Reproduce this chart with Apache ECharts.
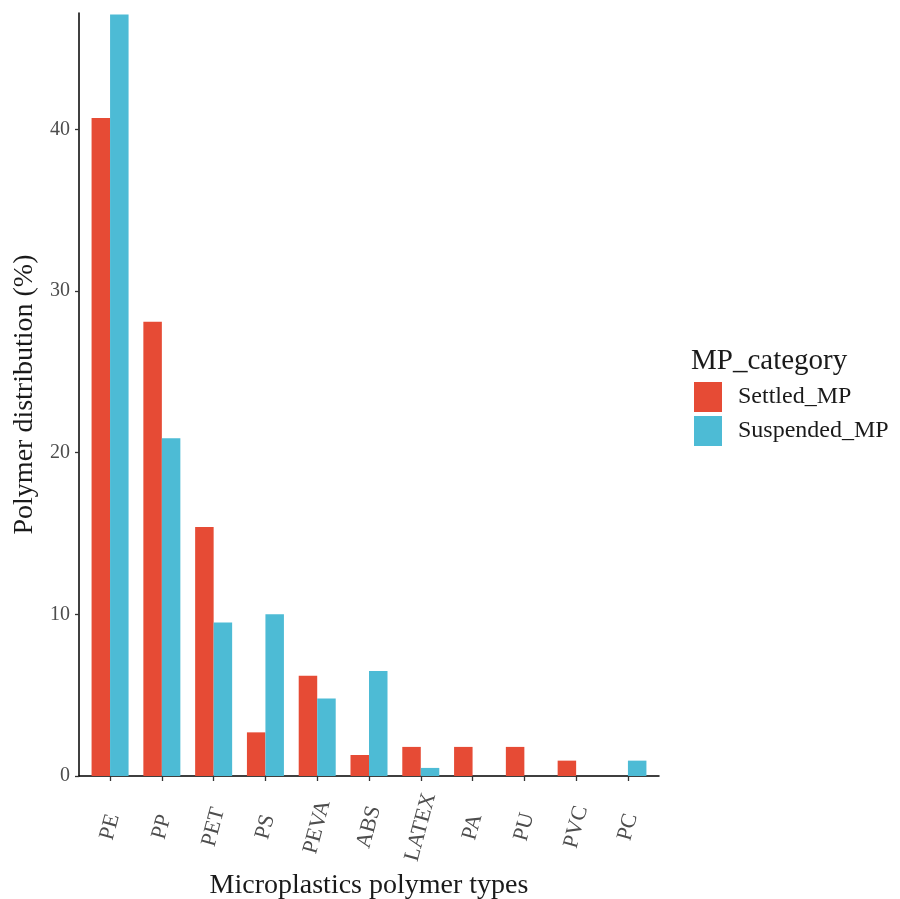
<!DOCTYPE html>
<html>
<head>
<meta charset="utf-8">
<script src="https://cdn.jsdelivr.net/npm/echarts@6/dist/echarts.min.js"></script>
<style>html,body{margin:0;padding:0;background:#fff}#c{width:900px;height:899px}</style>
</head>
<body>
<div id="c"></div>
<script>
const categories = ['PE','PP','PET','PS','PEVA','ABS','LATEX','PA','PU','PVC','PC'];
const settled = [40.7, 28.1, 15.4, 2.7, 6.2, 1.3, 1.8, 1.8, 1.8, 0.95, 0];
const suspended = [47.1, 20.9, 9.5, 10.0, 4.8, 6.5, 0.5, 0, 0, 0, 0.95];
const yTicks = [0, 10, 20, 30, 40];
const seriesNames = ['Settled_MP', 'Suspended_MP'];
const legendTitle = 'MP_category';
const xTitle = 'Microplastics polymer types';
const yTitle = 'Polymer distribution (%)';

const FONT = '"Liberation Serif", "DejaVu Serif", serif';
const idx = categories.map((_, i) => i);
const chart = echarts.init(document.getElementById('c'), null, {renderer: 'canvas'});
chart.setOption({
  backgroundColor: '#ffffff',
  animation: false,
  title: {
    text: legendTitle, left: 691, top: 347, padding: 0,
    textStyle: {fontFamily: FONT, fontSize: 29, fontWeight: 'normal', color: '#1a1a1a'}
  },
  legend: {
    orient: 'vertical', left: 694, top: 382, padding: 0,
    itemWidth: 28, itemHeight: 30, itemGap: 4, icon: 'rect',
    data: seriesNames,
    textStyle: {fontFamily: FONT, fontSize: 24, color: '#1a1a1a', padding: [0, 0, 0, 11]}
  },
  grid: {left: 79, right: 241, top: 13, bottom: 123, containLabel: false, outerBoundsMode: 'none'},
  xAxis: {
    type: 'value', min: -0.6, max: 10.6,
    name: xTitle, nameLocation: 'middle', nameGap: 94,
    nameTextStyle: {fontFamily: FONT, fontSize: 28, color: '#1a1a1a'},
    splitLine: {show: false},
    axisLine: {show: true, onZero: false, lineStyle: {color: '#000', width: 1.5}},
    axisTick: {show: true, customValues: idx, length: 5, lineStyle: {color: '#333', width: 1.3}},
    axisLabel: {
      customValues: idx, rotate: 75, margin: 51, align: 'center', verticalAlign: 'middle',
      fontFamily: FONT, fontSize: 22, color: '#4d4d4d',
      formatter: v => categories[Math.round(v)]
    }
  },
  yAxis: {
    type: 'value', min: 0, max: 47.2,
    name: yTitle, nameLocation: 'middle', nameGap: 35,
    nameTextStyle: {fontFamily: FONT, fontSize: 28, color: '#1a1a1a'},
    splitLine: {show: false},
    axisLine: {show: true, onZero: false, lineStyle: {color: '#000', width: 1.5}},
    axisTick: {show: true, customValues: yTicks, length: 4, lineStyle: {color: '#333', width: 1.3}},
    axisLabel: {
      customValues: yTicks, margin: 9,
      fontFamily: FONT, fontSize: 20, color: '#4d4d4d'
    }
  },
  series: [
    {
      name: seriesNames[0], type: 'bar', barWidth: 18.5, barGap: '0%',
      itemStyle: {color: '#E64B35'},
      data: settled.map((v, i) => [i, v])
    },
    {
      name: seriesNames[1], type: 'bar', barWidth: 18.5, barGap: '0%',
      itemStyle: {color: '#4DBBD5'},
      data: suspended.map((v, i) => [i, v])
    }
  ]
});
</script>
</body>
</html>
